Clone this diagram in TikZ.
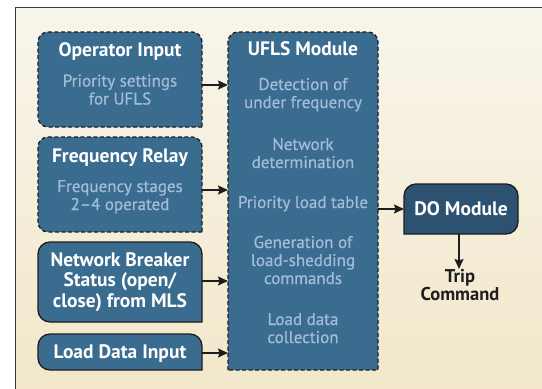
\documentclass[tikz,border=0pt]{standalone}
\usepackage{fontspec}
\setmainfont{PT Sans}
\newfontfamily\subfont[FakeBold=0.6]{PT Sans}
\usetikzlibrary{arrows.meta,backgrounds}

\definecolor{boxblue}{HTML}{396C8F}
\definecolor{doblue}{HTML}{2D5170}
\definecolor{subtext}{HTML}{A3BDD8}
\definecolor{edgeline}{HTML}{1E1E1E}
\definecolor{creamtop}{HTML}{F8F5EC}
\definecolor{creambot}{HTML}{F2E7C9}
\definecolor{framegray}{HTML}{3A3A3A}

\tikzset{
  panel/.style={inner sep=0pt, outer sep=0pt},
  outline/.style={draw=edgeline, line width=1.3pt, fill=boxblue},
  dashedline/.style={dash pattern=on 4pt off 2.5pt},
  title/.style={text=white, font=\fontsize{19.5}{20.5}\selectfont\bfseries,
                align=center, inner sep=0pt, anchor=base},
  subline/.style={text=subtext, font=\subfont\fontsize{17}{18}\selectfont,
                  align=center, inner sep=0pt, anchor=base},
  feed/.style={draw=edgeline, line width=1.5pt,
               -{Stealth[length=10pt,width=9pt,inset=1.5pt]}},
}

\begin{document}
\begin{tikzpicture}[x=1pt,y=-1pt]
  \useasboundingbox (0,0) rectangle (542,389);
  \clip (0,0) rectangle (542,389);

  % box placeholders (shapes drawn on the background layer)
  \node[panel, minimum width=164pt, minimum height=95pt]  (op)   at (120,79.5) {};
  \node[panel, minimum width=164pt, minimum height=95pt]  (fr)   at (120,184.5) {};
  \node[panel, minimum width=164pt, minimum height=80pt]  (nb)   at (120,282) {};
  \node[panel, minimum width=164pt, minimum height=36pt]  (ld)   at (120,352) {};
  \node[panel, minimum width=150pt, minimum height=338pt] (ufls) at (303,201) {};
  \node[panel, minimum width=114pt, minimum height=50pt]  (do)   at (461,209) {};

  \begin{pgfonlayer}{background}
    % page panel with a soft cream gradient
    \shade[top color=creamtop, bottom color=creambot, draw=framegray, line width=1pt]
      (15.5,7.5) rectangle (560,400);
    % left inputs: square lower-right corner
    \draw[outline, dashedline] (op.south east) [rounded corners=10pt] -- (op.south west)
      -- (op.north west) -- (op.north east) [sharp corners] -- cycle;
    \draw[outline, dashedline] (fr.south east) [rounded corners=10pt] -- (fr.south west)
      -- (fr.north west) -- (fr.north east) [sharp corners] -- cycle;
    \draw[outline] (nb.south east) [rounded corners=12pt] -- (nb.south west)
      -- (nb.north west) -- (nb.north east) [sharp corners] -- cycle;
    \draw[outline] (ld.south east) [rounded corners=12pt] -- (ld.south west)
      -- (ld.north west) -- (ld.north east) [sharp corners] -- cycle;
    % UFLS module: rounded top corners only
    \draw[outline, dashedline] (ufls.south west) [rounded corners=10pt] -- (ufls.north west)
      -- (ufls.north east) [sharp corners] -- (ufls.south east) -- cycle;
    % DO module: square lower-left corner
    \draw[outline, fill=doblue] (do.south west) [rounded corners=12pt] -- (do.north west)
      -- (do.north east) -- (do.south east) [sharp corners] -- cycle;
  \end{pgfonlayer}

  % texts of the input boxes (multi-line texts sit on their last baseline)
  \node[title]   (opT) at (120,56)    {Operator Input};
  \node[subline] (opS) at (120,104.5) {Priority settings\\for UFLS};
  \node[title]   (frT) at (120,162)   {Frequency Relay};
  \node[subline] (frS) at (120,210)   {Frequency stages\\2–4 operated};
  \node[title]   (nbT) at (120,307)   {Network Breaker\\Status (open/\\close) from MLS};
  \node[title]   (ldT) at (120,358)   {Load Data Input};

  % texts of the UFLS module
  \node[title]   (uT)  at (303,55)  {UFLS Module};
  \node[subline] (u1)  at (303,108) {Detection of\\under frequency};
  \node[subline] (u2)  at (303,168) {Network\\determination};
  \node[subline] (u3)  at (303,208) {Priority load table};
  \node[subline] (u4)  at (303,284) {Generation of\\load-shedding\\commands};
  \node[subline] (u5)  at (303,343) {Load data\\collection};

  % DO module and its output
  \node[title]   (doT) at (461,215) {DO Module};
  \node[text=edgeline, font=\fontsize{18.5}{18}\selectfont\bfseries, align=center,
        inner sep=0pt, anchor=north] (trip) at (460,269) {Trip\\Command};

  % connectors
  \coordinate (a1) at ([yshift=-5.5pt]op.east);
  \coordinate (a2) at ([yshift=-5.5pt]fr.east);
  \coordinate (a3) at ([yshift=1pt]nb.east);
  \coordinate (a4) at ([yshift=-1pt]ld.east);
  \draw[feed] (a1) -- (a1 -| ufls.west);
  \draw[feed] (a2) -- (a2 -| ufls.west);
  \draw[feed] (a3) -- (a3 -| ufls.west);
  \draw[feed] (a4) -- (a4 -| ufls.west);
  \draw[feed] (ufls.east |- do.west) -- (do.west);
  \coordinate (b1) at ([xshift=-2pt]do.south);
  \draw[feed] (b1) -- (b1 |- trip.north);
\end{tikzpicture}
\end{document}
